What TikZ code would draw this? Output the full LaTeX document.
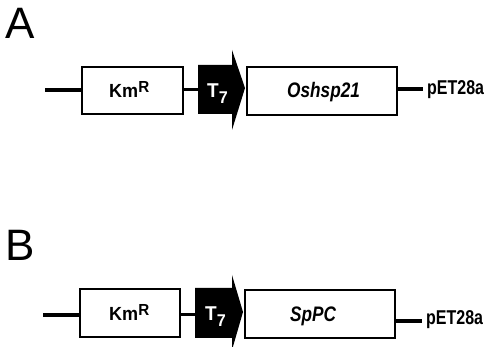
\documentclass[tikz,border=0pt]{standalone}
\usepackage{fontspec}
\setmainfont{Liberation Sans}
\newfontfamily\condfont[FakeStretch=0.8]{Liberation Sans Bold}
\newfontfamily\condit[FakeStretch=0.82]{Liberation Sans Bold Italic}
\newfontfamily\kmfont[FakeStretch=0.95]{Liberation Sans Bold}
\begin{document}
\begin{tikzpicture}[x=1pt,y=-1pt,
  genebox/.style={draw=black,line width=1.6pt,fill=white,inner sep=0pt},
  thickline/.style={line width=4pt},
  thinline/.style={line width=3pt},
  promoter/.style={fill=black},
  panellabel/.style={font=\fontsize{44}{44}\selectfont,inner sep=0pt,anchor=north west},
  kmtext/.style={font=\kmfont\fontsize{19}{19}\selectfont,inner sep=0pt,anchor=base west},
  t7text/.style={font=\kmfont\fontsize{20}{20}\selectfont,inner sep=0pt,anchor=base west,text=white},
  genetext/.style={font=\condit\fontsize{21}{21}\selectfont,inner sep=0pt,anchor=base west},
  vectortext/.style={font=\condfont\fontsize{20}{20}\selectfont,inner sep=0pt,anchor=base west}]
\newcommand{\KmR}{Km\raisebox{5pt}{\fontsize{16}{16}\selectfont R}}
\newcommand{\Tseven}{T\raisebox{-6pt}{\fontsize{17}{17}\selectfont 7}}
\useasboundingbox (0,0) rectangle (490,347);
% Panel A
\node[panellabel] (la) at (5,8) {A};
\coordinate (a0) at (45,90);
\node[genebox,minimum width=101pt,minimum height=47pt] (akm) at (132.5,90.5) {};
\node[kmtext] (akmt) at (109,98) {\KmR};
\path[promoter] (198,65) -- (232,65) -- (232,50) -- (245,88) -- (232,130) -- (232,114) -- (198,114) -- cycle;
\coordinate (at7) at (198,90);
\node[t7text] (at7t) at (207,98) {\Tseven};
\node[genebox,minimum width=150pt,minimum height=48pt] (aosh) at (322,91) {};
\node[genetext] (aosht) at (287,98) {Oshsp21};
\node[vectortext] (apet) at (427,95) {pET28a};
\coordinate (apetl) at (423,89);
\draw[thickline] (a0) -- (akm.west |- a0);
\draw[thinline] (akm.east |- at7) -- (at7);
\draw[thickline] (aosh.east |- apetl) -- (apetl);
% Panel B
\node[panellabel] (lb) at (5,230) {B};
\coordinate (b0) at (43,315);
\node[genebox,minimum width=100pt,minimum height=48pt] (bkm) at (130,313) {};
\node[kmtext] (bkmt) at (109,320) {\KmR};
\path[promoter] (195,288) -- (232,288) -- (232,275) -- (243,312) -- (232,350) -- (232,338) -- (195,338) -- cycle;
\coordinate (bt7) at (195,315);
\node[t7text] (bt7t) at (205,320) {\Tseven};
\node[genebox,minimum width=150pt,minimum height=48pt] (bsp) at (320,314) {};
\node[genetext] (bspt) at (290,322) {SpPC};
\node[vectortext] (bpet) at (426,324) {pET28a};
\coordinate (bpetl) at (422,321);
\draw[thickline] (b0) -- (bkm.west |- b0);
\draw[thinline] (bkm.east |- bt7) -- (bt7);
\draw[thickline] (bsp.east |- bpetl) -- (bpetl);
\end{tikzpicture}
\end{document}
